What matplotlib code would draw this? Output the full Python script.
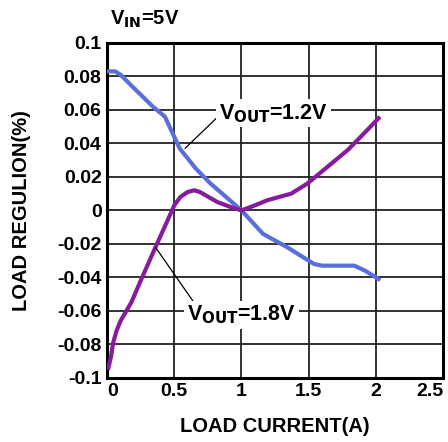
import numpy as np
import matplotlib.pyplot as plt

plt.rcParams['font.family'] = ['Liberation Sans', 'DejaVu Sans']
plt.rcParams['font.weight'] = 'bold'

# Vout = 1.2 V
i_12 = [0.0, 0.06, 0.1, 0.2, 0.34, 0.43, 0.54, 0.66, 0.77, 0.9, 1.0, 1.08, 1.16,
        1.34, 1.54, 1.6, 1.84, 1.92, 2.02]
r_12 = [0.083, 0.083, 0.081, 0.073, 0.062, 0.056, 0.037, 0.025, 0.016, 0.007, 0.0,
        -0.007, -0.014, -0.022, -0.032, -0.033, -0.033, -0.036, -0.041]

# Vout = 1.8 V
i_18 = [0.01, 0.03, 0.045, 0.07, 0.1, 0.18, 0.25, 0.36, 0.45, 0.5, 0.545, 0.6, 0.65,
        0.69, 0.82, 0.92, 1.0, 1.1, 1.19, 1.37, 1.49, 1.64, 1.79, 1.9, 2.02]
r_18 = [-0.094, -0.087, -0.079, -0.072, -0.066, -0.055, -0.042, -0.022, -0.006, 0.003,
        0.008, 0.011, 0.012, 0.011, 0.005, 0.002, 0.0, 0.003, 0.006, 0.010, 0.016,
        0.026, 0.036, 0.045, 0.055]

xticks = [0, 0.5, 1, 1.5, 2, 2.5]
xlabels = ['0', '0.5', '1', '1.5', '2', '2.5']
yticks = np.round(np.arange(-0.1, 0.1001, 0.02), 2)
ylabels = ['-0.1', '-0.08', '-0.06', '-0.04', '-0.02', '0',
           '0.02', '0.04', '0.06', '0.08', '0.1']

fig = plt.figure(figsize=(4.48, 4.42), dpi=100)
ax = fig.add_axes([0.239, 0.145, 0.75, 0.758])

ax.plot(i_12, r_12, color='#5a6fdc', lw=3, zorder=3)
ax.plot(i_18, r_18, color='#861c9c', lw=3, zorder=3)

ax.set_xlim(0, 2.5)
ax.set_ylim(-0.1, 0.1)
ax.set_xticks(xticks)
ax.set_xticklabels(xlabels)
ax.set_yticks(yticks)
ax.set_yticklabels(ylabels)
ax.tick_params(length=0, labelsize=14, pad=4)
xt = ax.get_xticklabels()
xt[0].set_ha('left')
xt[-1].set_ha('right')
ax.grid(True, color='#222222', lw=1.3)
for s in ax.spines.values():
    s.set_linewidth(2.2)

ax.set_xlabel('LOAD CURRENT(A)', fontsize=14.5, fontweight='bold', labelpad=12)
ax.set_ylabel('LOAD REGULION(%)', fontsize=14.5, fontweight='bold', labelpad=19)
fig.text(0.245, 0.945, r'V$_{\mathbf{IN}}$=5V', fontsize=14.5, fontweight='bold')

box = dict(facecolor='white', edgecolor='none', pad=2)
ax.annotate(r'V$_{\mathbf{OUT}}$=1.2V', xy=(0.58, 0.037), xytext=(1.24, 0.058),
            fontsize=15.5, ha='center', va='center', bbox=box, zorder=4,
            arrowprops=dict(arrowstyle='-', color='black', lw=0.9,
                            shrinkA=0, shrinkB=0, relpos=(0.0, 0.4)))
ax.annotate(r'V$_{\mathbf{OUT}}$=1.8V', xy=(0.36, -0.022), xytext=(1.0, -0.0625),
            fontsize=15.5, ha='center', va='center', bbox=box, zorder=4,
            arrowprops=dict(arrowstyle='-', color='black', lw=0.9,
                            shrinkA=0, shrinkB=0, relpos=(0.08, 0.95)))

fig.savefig('out.png', dpi=100)
